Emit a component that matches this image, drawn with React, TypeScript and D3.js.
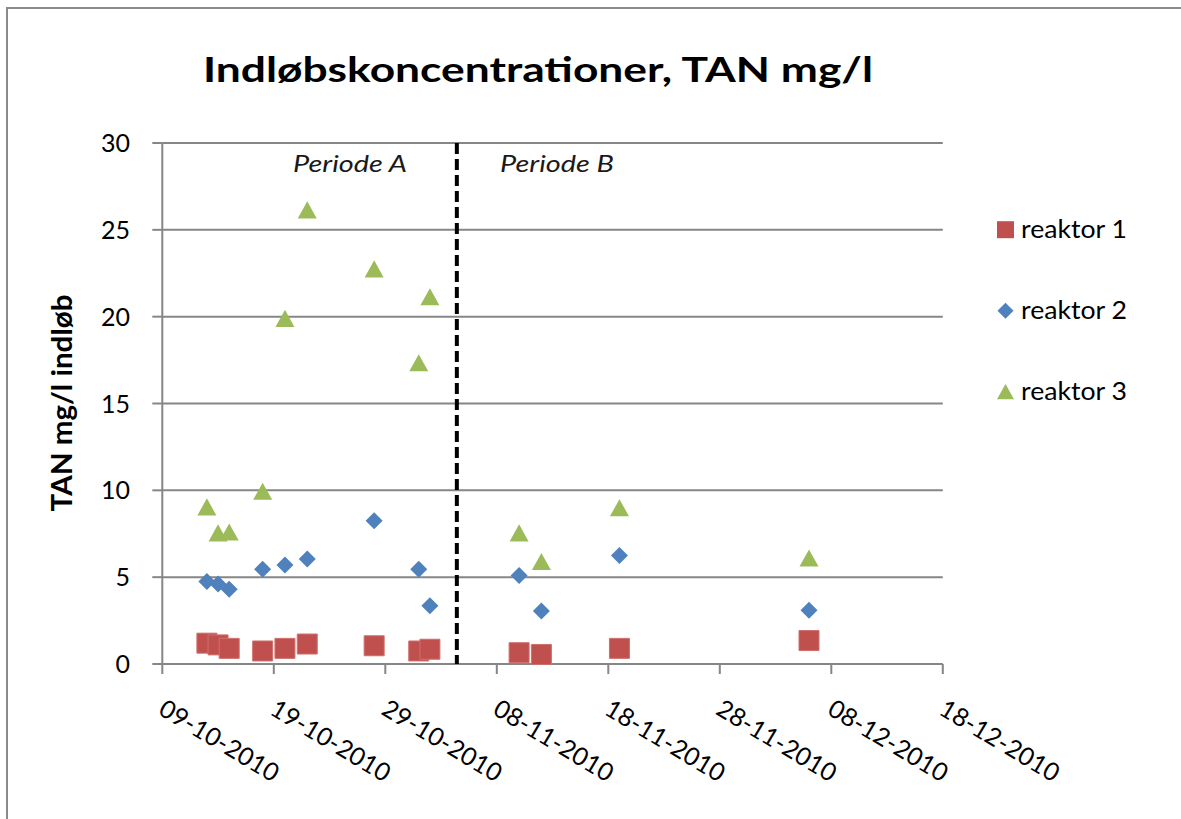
import React, { useEffect, useRef } from 'react'
import * as d3 from 'd3'

// måledatoer (indløbsprøver)
const dates = [
  '2010-10-13', '2010-10-14', '2010-10-15', '2010-10-18', '2010-10-20', '2010-10-22',
  '2010-10-28', '2010-11-01', '2010-11-02', '2010-11-10', '2010-11-12', '2010-11-19', '2010-12-06',
]
const reaktor1 = [1.2, 1.1, 0.9, 0.75, 0.9, 1.15, 1.05, 0.75, 0.85, 0.65, 0.55, 0.9, 1.35]
const reaktor2 = [4.75, 4.6, 4.3, 5.45, 5.7, 6.05, 8.25, 5.45, 3.35, 5.1, 3.05, 6.25, 3.1]
const reaktor3 = [9.05, 7.55, 7.6, 9.95, 19.9, 26.15, 22.75, 17.35, 21.15, 7.55, 5.9, 9.0, 6.1]

const seriesNames = ['reaktor 1', 'reaktor 2', 'reaktor 3']
const xTicks = ['2010-10-09', '2010-10-19', '2010-10-29', '2010-11-08', '2010-11-18', '2010-11-28', '2010-12-08', '2010-12-18']
const yTicks = [0, 5, 10, 15, 20, 25, 30]
const periodBoundary = '2010-11-04T10:00'
const periodLabels = ['Periode A', 'Periode B']

const title = 'Indløbskoncentrationer, TAN mg/l'
const yTitle = 'TAN mg/l indløb'

const colors = ['#C0504D', '#4F81BD', '#9BBB59']
const font = 'Lato, "Open Sans", sans-serif'

// markør-former, centreret i (0,0)
const markerPath = (kind: number, s: number) => {
  const h = s / 2
  if (kind === 0) return `M${-h},${-h}H${h}V${h}H${-h}Z`
  if (kind === 1) return `M0,${-h}L${h},0L0,${h}L${-h},0Z`
  return `M0,${-h * 0.9}L${h},${h * 0.9}L${-h},${h * 0.9}Z`
}

const App = () => {
  const svgRef = useRef<SVGSVGElement>(null)

  useEffect(() => {
    const parse = d3.utcParse('%Y-%m-%d')
    const fmt = d3.utcFormat('%d-%m-%Y')
    const width = 1181
    const height = 819

    const svg = d3.select(svgRef.current)
    svg.selectAll('*').remove()
    svg.attr('width', width).attr('height', height)

    svg.append('rect')
      .attr('x', 0).attr('y', 0).attr('width', width).attr('height', height)
      .attr('fill', '#fff')

    // ramme (afskåret til højre og forneden)
    svg.append('rect')
      .attr('x', 7).attr('y', 8).attr('width', 1300).attr('height', 1000)
      .attr('fill', 'none').attr('stroke', '#8a8a8a').attr('stroke-width', 2)

    const xScale = d3.scaleUtc()
      .domain([parse(xTicks[0])!, parse(xTicks[xTicks.length - 1])!])
      .range([162.3, 942.8])

    const yScale = d3.scaleLinear()
      .domain([0, 30])
      .range([664, 143])

    const x0 = xScale.range()[0]
    const x1 = xScale.range()[1]

    // gitterlinjer
    svg.append('g')
      .selectAll('line')
      .data(yTicks.filter(d => d > 0))
      .enter()
      .append('line')
      .attr('x1', x0).attr('x2', x1)
      .attr('y1', d => yScale(d)).attr('y2', d => yScale(d))
      .attr('stroke', '#868686').attr('stroke-width', 2)

    // y-akse
    const yAxis = svg.append('g')
    yAxis.append('line')
      .attr('x1', x0).attr('x2', x0)
      .attr('y1', yScale(0)).attr('y2', yScale(30))
      .attr('stroke', '#868686').attr('stroke-width', 2)
    yAxis.selectAll('.tick')
      .data(yTicks)
      .enter()
      .append('line')
      .attr('x1', x0 - 10).attr('x2', x0)
      .attr('y1', d => yScale(d)).attr('y2', d => yScale(d))
      .attr('stroke', '#868686').attr('stroke-width', 2)
    yAxis.selectAll('text')
      .data(yTicks)
      .enter()
      .append('text')
      .attr('x', 130)
      .attr('y', d => yScale(d))
      .attr('dy', '0.36em')
      .attr('text-anchor', 'end')
      .attr('font-family', font)
      .attr('font-size', 25)
      .attr('fill', '#000')
      .text(d => d)

    // x-akse
    const xAxis = svg.append('g')
    xAxis.append('line')
      .attr('x1', x0).attr('x2', x1)
      .attr('y1', yScale(0)).attr('y2', yScale(0))
      .attr('stroke', '#868686').attr('stroke-width', 2)
    xAxis.selectAll('.tick')
      .data(xTicks)
      .enter()
      .append('line')
      .attr('x1', d => xScale(parse(d)!)).attr('x2', d => xScale(parse(d)!))
      .attr('y1', yScale(0)).attr('y2', yScale(0) + 10)
      .attr('stroke', '#868686').attr('stroke-width', 2)
    xAxis.selectAll('text')
      .data(xTicks)
      .enter()
      .append('text')
      .attr('transform', d => `translate(${xScale(parse(d)!) + 4},${698}) rotate(31)`)
      .attr('dy', '0.72em')
      .attr('font-family', font)
      .attr('font-size', 25)
      .attr('fill', '#000')
      .text(d => fmt(parse(d)!))

    // periodeskel
    const bx = xScale(new Date(periodBoundary + 'Z'))
    svg.append('line')
      .attr('x1', bx).attr('x2', bx)
      .attr('y1', yScale(30)).attr('y2', yScale(0))
      .attr('stroke', '#000').attr('stroke-width', 4)
      .attr('stroke-dasharray', '11,5')

    svg.selectAll('.periode')
      .data(periodLabels)
      .enter()
      .append('text')
      .attr('x', (d, i) => (i === 0 ? 293 : 500))
      .attr('y', 172)
      .attr('font-family', font)
      .attr('font-size', 24)
      .attr('font-style', 'italic')
      .attr('fill', '#1a1a1a')
      .attr('textLength', 114)
      .attr('lengthAdjust', 'spacingAndGlyphs')
      .text(d => d)

    // punkter
    const allSeries = [reaktor1, reaktor2, reaktor3]
    const sizes = [20, 17, 19]
    const drawOrder = [2, 1, 0]
    drawOrder.forEach(si => {
      svg.append('g')
        .selectAll('path')
        .data(allSeries[si])
        .enter()
        .append('path')
        .attr('transform', (d, i) => `translate(${xScale(parse(dates[i])!)},${yScale(d)})`)
        .attr('d', markerPath(si, sizes[si]))
        .attr('fill', colors[si])
        .attr('stroke', si === 0 ? '#cf6f6c' : 'none')
        .attr('stroke-width', 1)
    })

    // forklaring
    const legend = svg.append('g')
    const legendSizes = [17, 16, 17]
    seriesNames.forEach((name, i) => {
      const cy = 229.7 + i * 81
      legend.append('path')
        .attr('transform', `translate(1005.5,${cy})`)
        .attr('d', markerPath(i, legendSizes[i]))
        .attr('fill', colors[i])
      legend.append('text')
        .attr('x', 1021)
        .attr('y', cy + 8)
        .attr('font-family', font)
        .attr('font-size', 25)
        .attr('fill', '#000')
        .attr('textLength', 106)
        .attr('lengthAdjust', 'spacingAndGlyphs')
        .text(name)
    })

    // titler
    svg.append('text')
      .attr('x', 203)
      .attr('y', 82)
      .attr('font-family', font)
      .attr('font-size', 35)
      .attr('font-weight', 'bold')
      .attr('fill', '#000')
      .attr('textLength', 670)
      .attr('lengthAdjust', 'spacingAndGlyphs')
      .text(title)

    svg.append('text')
      .attr('transform', 'translate(72,403) rotate(-90)')
      .attr('text-anchor', 'middle')
      .attr('font-family', font)
      .attr('font-size', 28)
      .attr('font-weight', 'bold')
      .attr('fill', '#000')
      .attr('textLength', 217)
      .attr('lengthAdjust', 'spacingAndGlyphs')
      .text(yTitle)
  }, [])

  return (
    <div>
      <svg ref={svgRef} style={{ position: 'absolute', left: 0, top: 0, display: 'block' }}></svg>
    </div>
  )
}

export default App
